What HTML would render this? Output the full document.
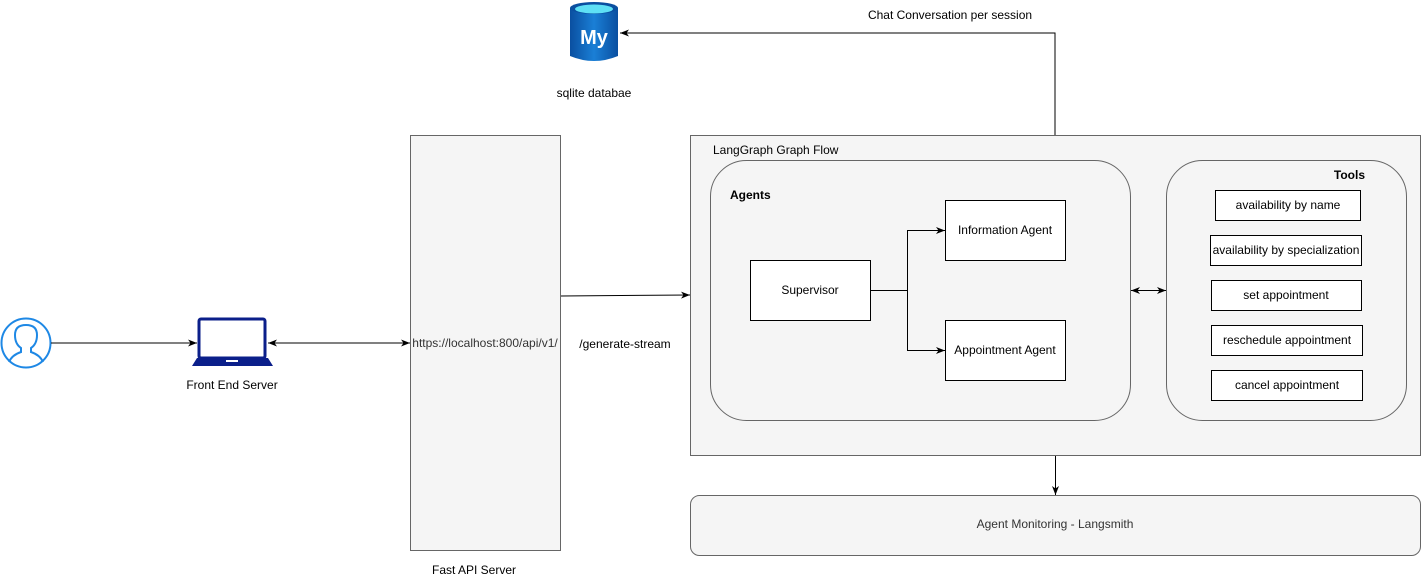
<!DOCTYPE html>
<html><head><meta charset="utf-8"><style>
html,body{margin:0;padding:0;background:#fff;}
svg{display:block;font-family:"Liberation Sans",Arial,sans-serif;}
</style></head><body>
<svg width="1422" height="585" viewBox="0 0 1422 585" xmlns="http://www.w3.org/2000/svg">
<defs>
<marker id="a" markerWidth="10" markerHeight="10" refX="9" refY="5" orient="auto-start-reverse" markerUnits="userSpaceOnUse"><path d="M0,1.5 L9,5 L0,8.5 L2.5,5 Z" fill="#000"/></marker>
<linearGradient id="db" x1="0" x2="1"><stop offset="0" stop-color="#0a4fa0"/><stop offset="0.5" stop-color="#1a7fd6"/><stop offset="1" stop-color="#0a4fa0"/></linearGradient>
</defs>
<!-- user -->
<circle cx="26" cy="343" r="24.5" fill="#fff" stroke="#1e88e5" stroke-width="2"/>
<path d="M9,362 Q12,355 21,352 L21,348 Q15,344 15,335 Q15,325 26,325 Q37,325 37,335 Q37,344 31,348 L31,352 Q40,355 43,362" fill="none" stroke="#1e88e5" stroke-width="2"/>
<line x1="51" y1="343" x2="197" y2="343" stroke="#000" marker-end="url(#a)"/>
<!-- laptop -->
<rect x="199" y="319" width="66" height="39" rx="2" fill="none" stroke="#0b1f8a" stroke-width="3"/>
<path d="M197,358 L268,358 L273,366 L192,366 Z" fill="#0b1f8a"/>
<rect x="226" y="360" width="12" height="2" fill="#fff"/>
<text x="232" y="389" font-size="12" text-anchor="middle">Front End Server</text>
<line x1="268" y1="343" x2="410" y2="343" stroke="#000" marker-start="url(#a)" marker-end="url(#a)"/>
<!-- fast api -->
<rect x="410.5" y="135.5" width="150" height="415" fill="#f5f5f5" stroke="#666"/>
<text x="485" y="347" font-size="12" text-anchor="middle" fill="#333">https://localhost:800/api/v1/</text>
<text x="474" y="574" font-size="12" text-anchor="middle">Fast API Server</text>
<path d="M561,296 L690,295" stroke="#000" fill="none" marker-end="url(#a)"/>
<text x="625" y="348" font-size="12" text-anchor="middle">/generate-stream</text>
<!-- db -->
<path d="M570,8 L570,56 Q594,66 618,56 L618,8 Z" fill="url(#db)"/>
<ellipse cx="594" cy="8" rx="24" ry="6" fill="#0a4fa0"/>
<ellipse cx="594" cy="9" rx="19" ry="4.5" fill="#5ee0f5"/>
<text x="594" y="44" font-size="20" font-weight="bold" text-anchor="middle" fill="#fff">My</text>
<text x="594" y="97" font-size="12" text-anchor="middle">sqlite databae</text>
<path d="M1055,135 L1055,33 L620,33" stroke="#000" fill="none" marker-end="url(#a)"/>
<text x="950" y="19" font-size="12" text-anchor="middle">Chat Conversation per session</text>
<!-- langgraph -->
<rect x="690.5" y="135.5" width="730" height="320" fill="#f5f5f5" stroke="#666"/>
<text x="713" y="154" font-size="12">LangGraph Graph Flow</text>
<rect x="710.5" y="160.5" width="420" height="260" rx="36" fill="#f5f5f5" stroke="#666"/>
<text x="730" y="199" font-size="12" font-weight="bold">Agents</text>
<rect x="750.5" y="260.5" width="120" height="60" fill="#fff" stroke="#000"/>
<text x="810" y="294" font-size="12" text-anchor="middle">Supervisor</text>
<rect x="945.5" y="200.5" width="120" height="60" fill="#fff" stroke="#000"/>
<text x="1005" y="234" font-size="12" text-anchor="middle">Information Agent</text>
<rect x="945.5" y="320.5" width="120" height="60" fill="#fff" stroke="#000"/>
<text x="1005" y="354" font-size="12" text-anchor="middle">Appointment Agent</text>
<path d="M871,290.5 L907.5,290.5 L907.5,230.5 L945,230.5" stroke="#000" fill="none" marker-end="url(#a)"/>
<path d="M907.5,290.5 L907.5,350.5 L945,350.5" stroke="#000" fill="none" marker-end="url(#a)"/>
<line x1="1131" y1="290.5" x2="1166" y2="290.5" stroke="#000" marker-start="url(#a)" marker-end="url(#a)"/>
<rect x="1166.5" y="160.5" width="240" height="260" rx="36" fill="#f5f5f5" stroke="#666"/>
<text x="1365" y="179" font-size="12" font-weight="bold" text-anchor="end">Tools</text>
<g font-size="12" text-anchor="middle">
<rect x="1215.5" y="190.5" width="145" height="30" fill="#fff" stroke="#000"/><text x="1288" y="209">availability by name</text>
<rect x="1210.5" y="235.5" width="151" height="30" fill="#fff" stroke="#000"/><text x="1286" y="254">availability by specialization</text>
<rect x="1211.5" y="280.5" width="150" height="30" fill="#fff" stroke="#000"/><text x="1286" y="299">set appointment</text>
<rect x="1211.5" y="325.5" width="151" height="30" fill="#fff" stroke="#000"/><text x="1287" y="344">reschedule appointment</text>
<rect x="1211.5" y="370.5" width="151" height="30" fill="#fff" stroke="#000"/><text x="1287" y="389">cancel appointment</text>
</g>
<line x1="1055.5" y1="456" x2="1055.5" y2="495" stroke="#000" marker-end="url(#a)"/>
<rect x="690.5" y="495.5" width="730" height="60" rx="9" fill="#f5f5f5" stroke="#666"/>
<text x="1055" y="528" font-size="12" text-anchor="middle" fill="#333">Agent Monitoring - Langsmith</text>
</svg>
</body></html>
